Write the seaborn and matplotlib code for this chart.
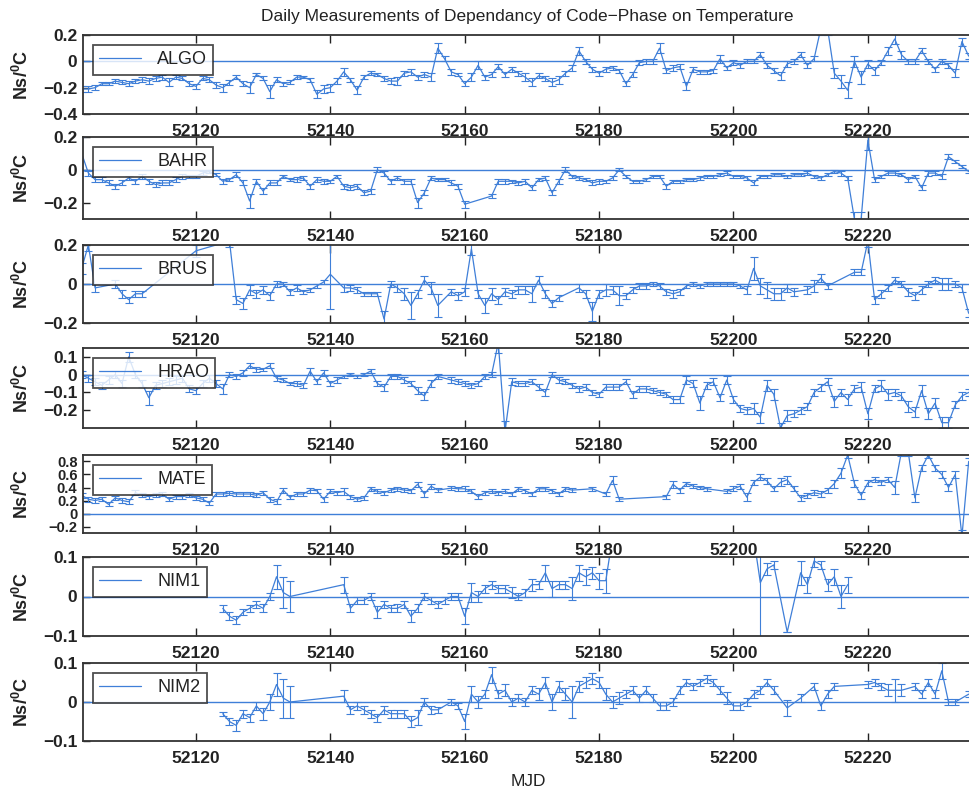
import numpy as np
import pandas as pd
import matplotlib
matplotlib.use('Agg')
import matplotlib.pyplot as plt
from matplotlib.ticker import FuncFormatter
import seaborn as sns

nan = float('nan')

MJD_FIRST, MJD_LAST = 52103, 52235
mjd = np.arange(MJD_FIRST, MJD_LAST + 1)
xticks = [52120, 52140, 52160, 52180, 52200, 52220]
stations = ['ALGO', 'BAHR', 'BRUS', 'HRAO', 'MATE', 'NIM1', 'NIM2']

# ---- values (ns/degC), one per day 52103..52235 ----
algo_val = [-0.21,-0.21,-0.20,-0.17,-0.17,-0.15,-0.16,-0.17,-0.15,-0.14,
            -0.15,-0.13,-0.12,-0.16,-0.12,-0.13,-0.17,-0.19,-0.13,-0.14,
            -0.18,-0.20,-0.16,-0.12,-0.17,-0.20,-0.10,-0.13,-0.23,-0.14,
            -0.17,-0.16,-0.12,-0.12,-0.14,-0.25,-0.21,-0.20,-0.15,-0.08,
            -0.14,-0.22,-0.12,-0.09,-0.10,-0.13,-0.15,-0.15,-0.09,-0.08,
            -0.12,-0.10,-0.12,0.10,0.02,-0.08,-0.10,-0.17,-0.12,-0.03,
            -0.12,-0.10,-0.04,
            -0.10,-0.06,-0.09,-0.12,-0.16,-0.11,-0.13,-0.16,-0.14,-0.09,
            -0.05,0.08,0.00,-0.06,-0.09,-0.06,-0.05,-0.07,-0.17,-0.10,
            -0.01,0.00,0.00,0.10,-0.07,-0.05,-0.04,-0.19,-0.06,-0.08,
            -0.08,-0.07,0.02,-0.05,-0.01,-0.03,0.00,0.00,0.05,-0.03,
            -0.07,-0.11,-0.02,0.00,0.05,-0.03,0.02,0.25,0.25,-0.09,
            -0.15,-0.22,0.00,-0.12,-0.02,-0.07,-0.01,0.08,0.17,0.05,
            0.00,0.00,0.08,0.00,-0.06,0.00,-0.03,-0.09,0.15,0.04]
algo_err = [20,20,20,10,10,15,15,20,15,20, 20,20,20,30,15,15,20,20,15,20,
            20,30,20,15,20,40,15,15,50,20, 15,15,15,10,15,30,30,30,20,30,
            15,30,15,15,15,20,20,30,20,20, 20,20,30,40,20,20,15,20,30,30,
            20,20,20,
            20,20,20,30,30,20,20,30,30,20, 20,30,20,20,20,20,15,15,20,20,
            20,20,20,40,20,20,20,30,20,15, 15,15,30,15,20,20,15,15,20,20,
            20,30,20,20,20,20,20,50,50,40, 50,60,40,50,30,30,20,30,40,30,
            20,20,20,20,20,20,20,30,30,20]

bahr_val = [0.10,-0.02,-0.06,-0.06,-0.08,-0.10,-0.08,-0.05,-0.07,-0.04,
            -0.07,-0.09,-0.08,-0.08,-0.06,-0.04,-0.04,-0.04,-0.02,-0.01,
            -0.03,-0.07,-0.06,-0.03,-0.08,-0.19,-0.07,-0.13,-0.08,-0.08,
            -0.04,-0.06,-0.06,-0.05,-0.10,-0.06,-0.07,-0.07,-0.04,-0.10,
            -0.11,-0.10,-0.14,-0.13,0.00,-0.02,-0.07,-0.05,-0.07,-0.07,
            -0.20,-0.14,-0.05,-0.06,-0.06,-0.08,-0.10,-0.21,
            nan,nan,nan,-0.16,-0.07,
            -0.07,-0.07,-0.08,-0.07,-0.11,-0.06,-0.05,-0.14,-0.07,0.00,
            -0.04,-0.05,-0.06,-0.08,-0.07,-0.07,-0.05,0.00,-0.04,-0.07,
            -0.07,-0.06,-0.04,-0.04,-0.10,-0.07,-0.07,-0.06,-0.06,-0.05,
            -0.04,-0.04,-0.03,-0.02,-0.04,-0.04,-0.05,-0.08,-0.04,-0.04,
            -0.03,-0.03,-0.04,-0.03,-0.03,-0.02,-0.04,-0.05,-0.03,-0.01,
            -0.02,-0.05,-0.30,-0.30,0.18,-0.06,-0.04,-0.02,-0.02,-0.03,
            -0.06,-0.04,-0.11,-0.02,-0.02,-0.04,0.08,0.05,0.02,-0.01]
bahr_err = [100,15,15,15,15,15,15,15,15,15, 15,15,15,15,15,15,10,10,10,10,
            10,15,10,15,15,40,15,20,15,15, 10,10,15,15,15,15,15,10,10,15,
            15,15,15,15,15,15,15,15,15,15, 30,15,15,10,10,15,15,20,
            0,0,0,15,15,
            15,10,10,15,15,10,10,15,15,15, 10,10,10,15,15,10,10,10,10,10,
            10,10,10,10,15,10,10,10,10,10, 10,10,10,10,10,10,10,15,10,10,
            10,10,10,10,10,10,10,10,10,10, 15,15,40,40,60,15,10,10,10,10,
            15,10,15,15,10,15,15,10,10,10]

brus_val = [0.08,0.20,-0.02,nan,nan,0.00,-0.05,-0.08,-0.05,-0.05,
            nan,nan,nan,nan,nan,nan,nan,0.17,nan,nan,
            nan,nan,0.22,-0.08,-0.10,-0.03,-0.05,-0.03,-0.06,0.00,
            0.00,-0.04,-0.02,-0.04,-0.03,-0.01,0.01,0.05,nan,-0.02,
            -0.02,-0.03,-0.05,-0.05,-0.05,-0.18,0.00,-0.02,-0.05,-0.11,
            -0.05,0.02,-0.02,-0.11,nan,-0.04,-0.06,-0.04,0.18,-0.05,
            -0.11,-0.05,-0.08,
            -0.04,-0.05,-0.03,-0.03,-0.05,0.02,-0.05,-0.10,-0.07,nan,
            nan,-0.02,-0.05,-0.14,-0.05,-0.03,-0.03,-0.06,-0.06,-0.03,
            -0.01,-0.01,0.00,-0.01,-0.04,-0.05,-0.04,-0.01,0.00,-0.01,
            0.00,0.00,0.00,0.00,0.00,-0.01,-0.03,0.08,-0.01,-0.03,
            -0.05,-0.05,-0.02,-0.04,nan,-0.03,-0.01,0.03,-0.01,nan,
            nan,nan,0.06,0.06,0.22,-0.08,-0.05,-0.02,0.02,0.00,
            -0.04,-0.06,-0.03,0.00,0.02,0.00,0.00,0.00,-0.02,-0.15]
brus_err = [30,30,20,0,0,20,20,15,15,15, 0,0,0,0,0,0,0,30,0,0,
            0,0,30,20,30,25,20,20,20,15, 10,15,15,10,10,10,10,180,0,20,
            15,15,10,10,10,40,15,20,30,70, 20,20,30,60,0,15,20,20,30,20,
            40,30,20,
            20,20,20,20,40,20,20,20,15,0, 0,20,20,50,20,30,20,50,15,15,
            15,15,10,15,15,20,15,10,10,10, 10,10,10,10,10,10,20,60,40,40,
            30,30,20,20,0,20,30,20,15,0, 0,0,15,15,30,20,20,15,15,15,
            20,20,20,15,15,30,30,15,20,20]

hrao_val = [0.00,-0.02,-0.04,-0.06,-0.03,0.00,-0.05,0.10,0.00,-0.05,
            -0.13,-0.06,-0.05,-0.04,-0.03,-0.02,-0.08,-0.09,-0.05,-0.02,
            -0.05,-0.08,0.00,-0.01,0.01,0.05,0.03,0.03,0.05,-0.02,
            -0.03,-0.05,-0.05,-0.06,0.02,-0.04,0.01,-0.05,-0.03,-0.01,
            0.00,-0.01,0.00,0.02,-0.05,-0.07,-0.01,-0.01,-0.03,-0.05,
            -0.09,-0.12,-0.05,-0.01,nan,-0.03,-0.04,-0.05,-0.06,-0.05,
            -0.01,0.00,0.18,
            -0.32,-0.04,-0.05,-0.05,-0.04,-0.07,-0.10,0.00,-0.03,-0.04,
            -0.06,-0.08,-0.07,-0.10,-0.11,-0.07,-0.07,-0.07,-0.04,-0.11,
            -0.08,-0.08,-0.09,-0.10,-0.11,-0.14,-0.14,-0.03,-0.05,-0.16,
            -0.06,-0.04,-0.13,-0.03,-0.14,-0.19,-0.20,-0.19,-0.24,-0.06,
            -0.11,-0.30,-0.23,-0.22,-0.20,-0.18,-0.10,-0.07,-0.04,-0.15,
            -0.10,-0.14,-0.08,-0.07,-0.22,-0.08,-0.06,-0.11,-0.10,-0.12,
            -0.18,-0.21,-0.09,-0.22,-0.16,-0.27,-0.27,-0.17,-0.12,-0.10]
hrao_err = [20,20,20,20,20,20,20,30,20,20, 40,20,20,20,20,20,20,20,20,20,
            20,30,15,15,15,15,15,10,15,15, 10,10,15,15,20,15,15,15,15,10,
            10,10,10,10,15,20,15,15,15,15, 20,20,20,15,0,15,15,15,15,15,
            15,15,60,
            60,20,15,15,15,15,20,15,15,15, 15,15,15,15,15,15,15,15,15,20,
            15,15,15,15,15,20,20,20,20,40, 20,20,20,20,20,20,20,30,30,30,
            30,30,30,20,20,20,20,20,20,30, 20,30,20,30,30,20,30,30,20,20,
            30,30,30,30,30,30,30,20,20,20]

mate_val = [0.28,0.22,0.20,0.22,0.14,0.24,0.20,0.18,0.32,0.28,
            0.26,0.28,0.30,0.22,0.26,0.26,0.28,0.24,0.22,0.16,
            0.30,0.30,0.31,0.30,0.30,0.30,0.28,0.32,0.22,0.18,
            0.36,0.25,0.30,0.30,0.36,0.35,0.22,0.34,0.32,0.34,
            0.26,0.22,0.24,0.38,0.34,0.32,0.36,0.38,0.36,0.35,
            0.45,0.30,0.42,0.36,nan,0.39,0.38,0.38,0.34,0.26,
            0.32,0.34,0.32,
            0.34,0.30,0.38,0.35,0.30,0.38,0.38,0.35,0.30,0.38,
            0.36,nan,nan,0.38,nan,0.30,0.51,0.22,nan,nan,
            nan,nan,nan,nan,0.26,0.45,0.36,0.46,0.42,0.40,
            0.38,nan,nan,0.34,0.38,0.42,0.25,0.48,0.56,0.50,
            0.38,0.48,0.52,0.38,0.24,0.28,0.32,0.30,0.36,0.46,
            0.62,0.90,0.46,0.28,0.47,0.52,0.48,0.52,0.40,0.95,
            0.95,0.24,0.70,0.90,0.70,0.60,0.40,0.60,-0.35,0.80]
mate_err = [40,40,40,30,30,30,40,40,40,30, 30,30,30,30,30,30,30,30,30,30,
            30,30,30,30,30,30,30,30,40,40, 40,30,30,30,40,30,40,30,30,50,
            30,30,30,30,30,30,30,30,30,30, 40,50,40,30,0,30,30,40,30,40,
            30,30,30,
            30,30,30,30,30,30,30,30,30,30, 30,0,0,30,0,30,60,30,0,0,
            0,0,0,0,30,50,40,30,30,30, 30,0,0,30,40,40,60,40,40,40,
            40,60,60,40,40,40,40,40,40,60, 80,40,50,50,40,40,40,40,100,60,
            60,60,50,50,50,50,50,60,100,60]

nim1_val = [nan,nan,nan,nan,nan,nan,nan,nan,nan,nan,
            nan,nan,nan,nan,nan,nan,nan,nan,nan,nan,nan,
            -0.03,-0.05,-0.06,-0.04,-0.03,-0.02,-0.03,0.00,0.05,0.01,0.00,
            nan,nan,nan,nan,nan,nan,nan,
            0.03,-0.03,-0.01,-0.01,0.00,-0.04,-0.02,-0.03,-0.03,-0.02,
            -0.05,-0.03,0.00,-0.01,-0.02,-0.01,0.00,0.00,-0.05,0.01,
            0.00,0.02,0.03,0.02,
            0.02,0.01,0.00,0.01,0.03,0.03,0.06,0.02,0.03,0.03,
            0.02,0.06,0.05,0.06,0.04,0.04,
            0.15,
            nan,nan,nan,nan,nan,nan,nan,nan,nan,nan,
            nan,nan,nan,nan,nan,nan,nan,nan,nan,nan,
            0.15,
            0.035,0.07,0.08,nan,-0.09,nan,0.06,0.03,0.09,0.08,0.03,0.05,0.00,0.03,
            nan,nan,nan,nan,nan,nan,nan,nan,nan,nan,
            nan,nan,nan,nan,nan,nan,nan,nan]
nim1_err = [0,0,0,0,0,0,0,0,0,0, 0,0,0,0,0,0,0,0,0,0,0,
            8,10,10,8,8,8,10,10,30,40,40,
            0,0,0,0,0,0,0,
            20,10,10,10,8,15,8,8,10,8, 15,10,8,8,8,8,8,8,20,25,
            15,10,10,10,
            10,15,10,10,15,10,20,20,10,10, 30,20,20,15,20,30,
            0,
            0,0,0,0,0,0,0,0,0,0, 0,0,0,0,0,0,0,0,0,0,
            0,
            140,15,10,0,0,0,30,20,15,10,15,20,30,20,
            0,0,0,0,0,0,0,0,0,0, 0,0,0,0,0,0,0,0]

nim2_val = [nan,nan,nan,nan,nan,nan,nan,nan,nan,nan,
            nan,nan,nan,nan,nan,nan,nan,nan,nan,nan,nan,
            -0.03,-0.05,-0.06,-0.03,-0.04,-0.01,-0.03,0.00,0.045,0.01,0.00,
            nan,nan,nan,nan,nan,nan,nan,
            0.015,-0.02,-0.01,-0.02,-0.03,-0.04,-0.02,-0.03,-0.03,-0.03,
            -0.05,-0.04,0.00,-0.02,-0.02,nan,0.00,-0.01,-0.05,0.02,
            0.00,0.02,0.07,0.02,
            0.03,0.00,0.01,0.00,0.03,0.02,0.05,0.00,0.04,0.02,
            0.00,0.04,0.05,0.06,0.05,0.02,0.00,0.01,0.02,0.03,
            0.01,0.03,0.01,-0.01,-0.01,0.00,0.03,0.05,0.04,0.05,
            0.06,0.05,0.03,0.01,-0.01,-0.01,0.00,0.02,0.03,0.05,
            0.03,nan,-0.015,nan,0.01,nan,0.04,-0.01,0.02,0.04,
            nan,nan,nan,nan,0.045,0.05,0.04,0.03,0.03,0.03,
            nan,0.04,0.02,0.05,0.02,0.08,0.00,0.00,nan,0.02]
nim2_err = [0,0,0,0,0,0,0,0,0,0, 0,0,0,0,0,0,0,0,0,0,0,
            5,10,15,10,10,10,15,20,30,50,40,
            0,0,0,0,0,0,0,
            15,10,10,10,10,10,10,10,10,10, 15,20,10,10,8,0,8,8,20,20,
            15,10,20,10,
            15,10,10,10,10,15,15,20,15,15, 40,15,15,15,15,15,15,15,10,10,
            10,10,10,10,10,10,10,10,10,10, 10,10,10,15,10,10,10,10,10,10,
            10,0,20,0,10,0,10,10,10,10, 0,0,0,0,10,10,10,15,30,15,
            0,10,10,10,10,20,8,8,0,8]

values = [algo_val, bahr_val, brus_val, hrao_val, mate_val, nim1_val, nim2_val]
errors = [algo_err, bahr_err, brus_err, hrao_err, mate_err, nim1_err, nim2_err]
ylims = [(-0.4, 0.2), (-0.3, 0.2), (-0.2, 0.2), (-0.3, 0.15),
         (-0.3, 0.9), (-0.1, 0.1), (-0.1, 0.1)]
yticks = [[-0.4, -0.2, 0, 0.2], [-0.2, 0, 0.2], [-0.2, 0, 0.2],
          [-0.2, -0.1, 0, 0.1], [-0.2, 0, 0.2, 0.4, 0.6, 0.8],
          [-0.1, 0, 0.1], [-0.1, 0, 0.1]]
ylabel_sizes = [12.5, 12.5, 12.5, 12.5, 10.5, 12.5, 12.5]

# ---- style / layout ----
sns.set_theme(style='ticks')
plt.rcParams['font.family'] = ['Liberation Sans', 'DejaVu Sans']
plt.rcParams['mathtext.fontset'] = 'custom'
plt.rcParams['mathtext.rm'] = 'Liberation Sans'
plt.rcParams['mathtext.bf'] = 'Liberation Sans:bold'

BLUE = '#3f7fd8'
W, H = 970, 790
fig = plt.figure(figsize=(W / 100, H / 100), dpi=100)
fig.patch.set_facecolor('white')

panel_px = [(35, 114), (137, 219), (245, 323), (348, 428),
            (455, 533), (557, 636), (663, 741)]
left_px, right_px = 83, 970
x0, x1 = 52103.2, 52235.2

fmt = FuncFormatter(lambda v, p: '0' if abs(v) < 1e-9 else ('%g' % v).replace('-', '\u2212'))

for i, name in enumerate(stations):
    top, bot = panel_px[i]
    ax = fig.add_axes([left_px / W, (H - bot) / H, (right_px - left_px) / W, (bot - top) / H])
    df = pd.DataFrame({'MJD': mjd, 'val': values[i],
                       'err': np.array(errors[i], dtype=float) / 1000.0})
    df = df.dropna(subset=['val'])
    sns.lineplot(data=df, x='MJD', y='val', ax=ax, color=BLUE, lw=0.9,
                 estimator=None, sort=False, label=name)
    ax.errorbar(df['MJD'], df['val'], yerr=df['err'], fmt='none', ecolor=BLUE,
                elinewidth=0.8, capsize=2.6, capthick=0.8)
    ax.axhline(0, color=BLUE, lw=1.0, zorder=1)
    ax.set_xlim(x0, x1)
    ax.set_ylim(*ylims[i])
    ax.set_xticks(xticks)
    ax.set_yticks(yticks[i])
    ax.yaxis.set_major_formatter(fmt)
    ax.xaxis.set_major_formatter(FuncFormatter(lambda v, p: '%d' % v))
    ax.tick_params(axis='x', direction='in', top=True, bottom=True, length=6,
                   width=1.0, pad=7, labelsize=12.5, colors='#222222')
    ax.tick_params(axis='y', direction='in', left=True, right=False, length=5,
                   width=1.0, pad=4, labelsize=ylabel_sizes[i], colors='#222222')
    for lab in ax.get_xticklabels() + ax.get_yticklabels():
        lab.set_fontweight('bold')
    for s in ['top', 'bottom', 'left']:
        ax.spines[s].set_color('#333333')
        ax.spines[s].set_linewidth(1.3)
    ax.spines['right'].set_visible(False)
    ax.set_xlabel('')
    ax.set_ylabel(r'Ns/$^{\mathbf{0}}$C', fontsize=13, fontweight='bold', color='#222222')
    ax.yaxis.set_label_coords(-0.058, 0.5)
    h = bot - top
    leg = ax.legend(loc='upper left', bbox_to_anchor=(10 / (right_px - left_px), 1 - 10 / h),
                    borderaxespad=0, fontsize=13, frameon=True, fancybox=False,
                    handlelength=2.3, handletextpad=0.9, borderpad=0.35)
    leg.get_frame().set_edgecolor('#222222')
    leg.get_frame().set_linewidth(1.3)
    for t in leg.get_texts():
        t.set_color('#222222')

fig.text(527 / W, 1 - 16 / H, 'Daily Measurements of Dependancy of Code\u2212Phase on Temperature',
         ha='center', va='center', fontsize=12.5, color='#222222')
fig.text(528 / W, 1 - 781 / H, 'MJD', ha='center', va='center', fontsize=12.5, color='#222222')

fig.savefig('out.png', dpi=100, facecolor='white')
